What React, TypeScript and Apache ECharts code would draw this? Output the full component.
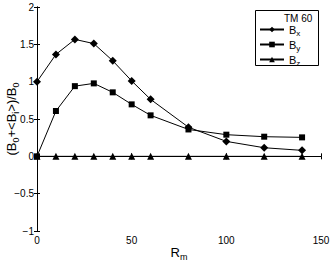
import React, { useEffect, useRef } from "react";
import * as echarts from "echarts";

const rm = [0, 10, 20, 30, 40, 50, 60, 80, 100, 120, 140];
const bx = [1.0, 1.365, 1.566, 1.51, 1.28, 1.01, 0.763, 0.39, 0.2, 0.115, 0.08];
const by = [0.0, 0.607, 0.94, 0.977, 0.857, 0.696, 0.549, 0.36, 0.29, 0.263, 0.254];
const bz = [0, 0, 0, 0, 0, 0, 0, 0, 0, 0, 0];
const legendTitle = "TM 60";

const FONT = "Liberation Sans";

export default function App() {
  const ref = useRef<HTMLDivElement>(null);
  useEffect(() => {
    const chart = echarts.init(ref.current!, null, { renderer: "svg" });
    const mk = (name: string, vals: number[], symbol: string, size: number) => ({
      name,
      type: "line",
      data: rm.map((x, i) => [x, vals[i]]),
      symbol,
      symbolSize: size,
      itemStyle: { color: "#000" },
      lineStyle: { color: "#000", width: 1 },
      xAxisIndex: 0,
      yAxisIndex: 0,
    });
    const fmtNum = (v: number) => (v < 0 ? "\u2212" + Math.abs(v) : String(v));
    chart.setOption({
      animation: false,
      backgroundColor: "#fff",
      textStyle: { fontFamily: FONT },
      grid: { left: 37, right: 11, top: 7, bottom: 31, outerBoundsMode: "none", containLabel: false },
      xAxis: [
        {
          type: "value", min: 0, max: 150, interval: 50,
          axisLine: { lineStyle: { color: "#000" } },
          axisTick: { inside: true, length: 3, lineStyle: { color: "#000" } },
          axisLabel: { color: "#000", fontSize: 10, fontFamily: FONT, margin: 4 },
          splitLine: { show: false },
          name: "{b|R}{s|m}",
          nameLocation: "middle",
          nameGap: 12,
          nameMoveOverlap: false,
          nameTextStyle: {
            color: "#000",
            verticalAlign: "top",
            rich: {
              b: { fontSize: 13, fontFamily: FONT, color: "#000" },
              s: { fontSize: 9, fontFamily: FONT, color: "#000", padding: [9, 0, 0, 0] },
            },
          },
        },
        {
          type: "value", min: 0, max: 150, interval: 50, position: "top",
          axisLine: { lineStyle: { color: "#000" } },
          axisTick: { inside: true, length: 3, lineStyle: { color: "#000" } },
          axisLabel: { show: false },
          splitLine: { show: false },
        },
      ],
      yAxis: [
        {
          type: "value", min: -1, max: 2, interval: 0.5,
          axisLine: { show: true, lineStyle: { color: "#000" } },
          axisTick: { show: true, inside: true, length: 3, lineStyle: { color: "#000" } },
          axisLabel: { color: "#000", fontSize: 10, fontFamily: FONT, margin: 3, formatter: fmtNum },
          splitLine: { show: false },
          name: "{b|(B}{s|0}{b|+<B}{s|i}{b|>)/B}{s|0}",
          nameLocation: "middle",
          nameGap: 17,
          nameMoveOverlap: false,
          nameTextStyle: {
            color: "#000",
            verticalAlign: "bottom",
            rich: {
              b: { fontSize: 13, fontFamily: FONT, color: "#000" },
              s: { fontSize: 9, fontFamily: FONT, color: "#000", padding: [9, 0, 0, 0] },
            },
          },
        },
        {
          type: "value", min: -1, max: 2, interval: 0.5, position: "right",
          axisLine: { show: true, lineStyle: { color: "#000" } },
          axisTick: { show: true, inside: true, length: 3, lineStyle: { color: "#000" } },
          axisLabel: { show: false },
          splitLine: { show: false },
        },
      ],
      legend: {
        orient: "vertical",
        left: 259,
        top: 24,
        itemWidth: 24,
        itemHeight: 7,
        itemGap: 2,
        padding: 0,
        z: 20,
        data: ["Bx", "By", "Bz"],
        formatter: (n: string) => `{b|B}{s|${n.slice(1)}}`,
        textStyle: {
          color: "#000",
          rich: {
            b: { fontSize: 11, fontFamily: FONT, color: "#000" },
            s: { fontSize: 8, fontFamily: FONT, color: "#000", padding: [7, 0, 0, 0] },
          },
        },
      },
      graphic: [
        {
          type: "rect",
          shape: { x: 255.5, y: 10.5, width: 63, height: 55 },
          style: { fill: "#fff", stroke: "#000", lineWidth: 1 },
          z: 5,
        },
        {
          type: "text",
          x: 284,
          y: 13,
          style: { text: legendTitle, fontSize: 10, fontFamily: FONT, fill: "#000" },
          z: 6,
        },
      ],
      series: [
        mk("Bx", bx, "diamond", 8),
        mk("By", by, "rect", 6),
        mk("Bz", bz, "triangle", 7),
      ],
    });
    return () => chart.dispose();
  }, []);
  return <div ref={ref} style={{ width: 332, height: 262, position: "absolute", left: 0, top: 0 }} />;
}
